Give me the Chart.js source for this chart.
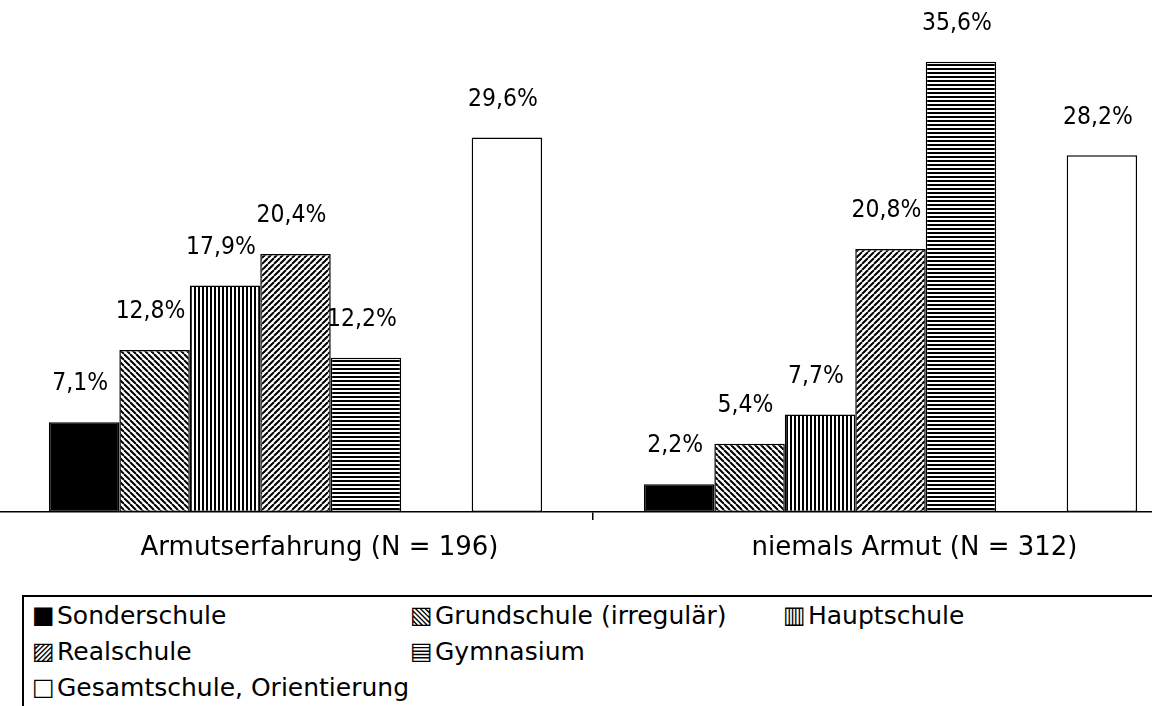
<!DOCTYPE html>
<html>
<head>
<meta charset="utf-8">
<script src="https://cdn.jsdelivr.net/npm/chart.js@4.4.1/dist/chart.umd.min.js"></script>
<style>
  html, body { margin: 0; padding: 0; background: #fff; overflow: hidden; width: 1152px; height: 706px; }
  #wrap { position: absolute; left: -2px; top: 0; width: 1190px; height: 590px; }
  #legend {
    position: absolute; left: 22px; top: 595px; width: 1200px; height: 140px;
    border: 2px solid #000; box-sizing: border-box;
    font-family: 'DejaVu Sans', sans-serif; font-size: 25px; color: #000;
  }
  #legend .item { position: absolute; white-space: nowrap; line-height: 36px; }
  #legend .sym { display: inline-block; width: 25px; font-size: 24px; position: relative; top: -1px; }
</style>
</head>
<body>
<div id="wrap"><canvas id="chart" width="1190" height="590"></canvas></div>
<div id="legend"></div>
<script>
// Kategorien (x-Achse)
var categories = ['Armutserfahrung (N = 196)', 'niemals Armut (N = 312)'];

// Schulformen, die 6. Reihe ist leer (Lücke im Original)
var seriesNames = ['Sonderschule', 'Grundschule (irregulär)', 'Hauptschule', 'Realschule', 'Gymnasium', '', 'Gesamtschule, Orientierung'];
var seriesSymbols = ['■', '▧', '▥', '▨', '▤', '', '□'];

// Werte in Prozent, je Kategorie
var sonderschule = [7.1, 2.2];
var grundschule = [12.8, 5.4];
var hauptschule = [17.9, 7.7];
var realschule = [20.4, 20.8];
var gymnasium = [12.2, 35.6];
var leer = [null, null];
var gesamtschule = [29.6, 28.2];

var seriesValues = [sonderschule, grundschule, hauptschule, realschule, gymnasium, leer, gesamtschule];

// Schraffuren als Canvas-Muster
function makePattern(kind) {
    var c = document.createElement('canvas');
    var size = (kind === 'back' || kind === 'fwd') ? 6 : 4;
    c.width = size;
    c.height = size;
    var g = c.getContext('2d');
    g.fillStyle = '#fff';
    g.fillRect(0, 0, size, size);
    g.fillStyle = '#000';
    g.strokeStyle = '#000';
    if (kind === 'vert') {
        g.fillRect(0, 0, 2, size);
    } else if (kind === 'horiz') {
        g.fillRect(0, 0, size, 2);
    } else {
        g.lineWidth = 2;
        g.beginPath();
        for (var k = -size; k <= size; k += size) {
            if (kind === 'back') {
                g.moveTo(k, 0);
                g.lineTo(k + size, size);
            } else {
                g.moveTo(k, size);
                g.lineTo(k + size, 0);
            }
        }
        g.stroke();
    }
    return g.createPattern(c, 'repeat');
}

var fills = ['#000', makePattern('back'), makePattern('vert'), makePattern('fwd'), makePattern('horiz'), '#fff', '#fff'];

var datasets = seriesNames.map(function(name, i) {
    return {
        label: name,
        data: seriesValues[i],
        backgroundColor: fills[i],
        borderColor: '#000',
        borderWidth: 1.5,
        borderSkipped: false
    };
});

// Prozentwerte über den Balken
var valueLabels = {
    id: 'valueLabels',
    afterDatasetsDraw: function(chart) {
        var ctx = chart.ctx;
        ctx.save();
        ctx.fillStyle = '#000';
        ctx.font = '22px "DejaVu Sans"';
        ctx.textAlign = 'center';
        ctx.textBaseline = 'middle';
        chart.data.datasets.forEach(function(ds, i) {
            var meta = chart.getDatasetMeta(i);
            meta.data.forEach(function(bar, j) {
                var v = ds.data[j];
                if (v === null) return;
                var txt = v.toFixed(1).replace('.', ',') + '%';
                ctx.save();
                ctx.translate(bar.x - 4, bar.y - 38);
                ctx.scale(1, 1.1);
                ctx.fillText(txt, 0, 0);
                ctx.restore();
            });
        });
        ctx.restore();
    }
};

Chart.defaults.font.family = '"DejaVu Sans", sans-serif';
Chart.defaults.color = '#000';

new Chart(document.getElementById('chart'), {
    type: 'bar',
    data: {
        labels: categories,
        datasets: datasets
    },
    options: {
        responsive: false,
        animation: false,
        categoryPercentage: 0.829,
        barPercentage: 1,
        layout: { padding: { top: 6, left: 0, right: 0, bottom: 0 } },
        plugins: {
            legend: { display: false },
            tooltip: { enabled: false }
        },
        scales: {
            x: {
                grid: { drawOnChartArea: false, tickLength: 8, color: '#000', lineWidth: 1.5 },
                border: { color: '#000', width: 1.5 },
                ticks: { font: { size: 26 }, padding: 13, labelOffset: 24, color: '#000' },
                afterFit: function(scale) { scale.height = 78; }
            },
            y: {
                display: false,
                min: 0,
                max: 40
            }
        }
    },
    plugins: [valueLabels]
});

// Legende, 3 Spalten wie im Original
var legend = document.getElementById('legend');
var colX = [8, 386, 759];
seriesNames.forEach(function(name, i) {
    if (!name) return;
    var el = document.createElement('div');
    el.className = 'item';
    el.style.left = colX[i % 3] + 'px';
    el.style.top = (Math.floor(i / 3) * 36 + 1) + 'px';
    el.innerHTML = '<span class="sym">' + seriesSymbols[i] + '</span>' + name;
    legend.appendChild(el);
});
</script>
</body>
</html>
